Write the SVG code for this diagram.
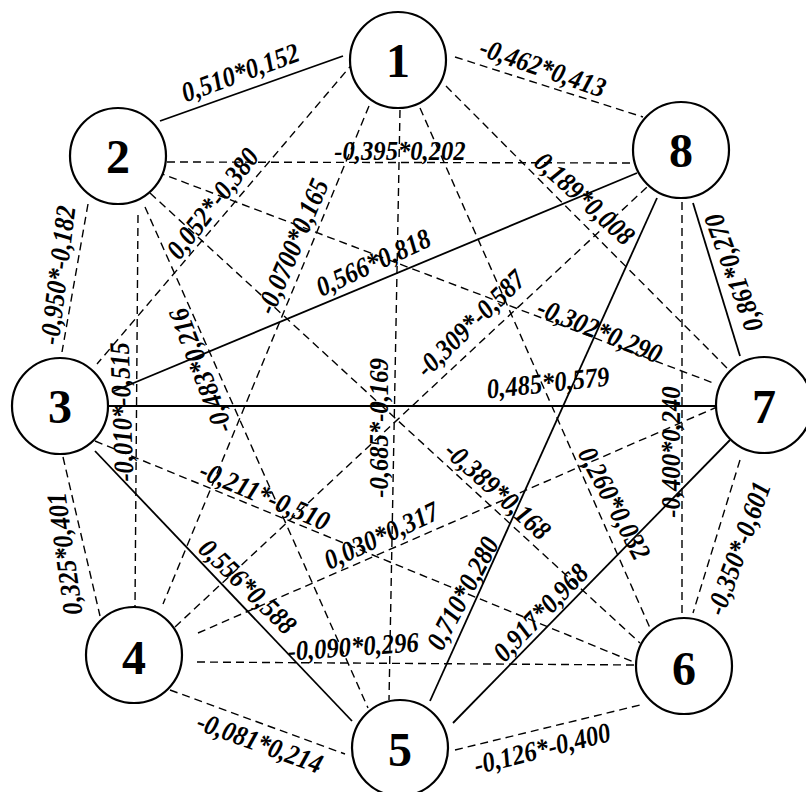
<svg xmlns="http://www.w3.org/2000/svg" width="806" height="792" viewBox="0 0 806 792">
<style>
.solid{stroke:#000;stroke-width:1.8;fill:none}
.dash{stroke:#000;stroke-width:1.4;fill:none;stroke-dasharray:8 5}
.node circle{fill:#fff;stroke:#000;stroke-width:2.2}
.node text{font-family:"Liberation Serif","Times New Roman",serif;font-weight:bold;font-size:48px;text-anchor:middle;fill:#000}
.lbl{font-family:"Liberation Serif","Times New Roman",serif;font-style:italic;font-weight:bold;font-size:28px;text-anchor:middle;fill:#000}
</style>
<rect width="806" height="792" fill="#fff"/>
<g id="connectors">
<line id="e1-2" class="solid" x1="160" y1="121" x2="343" y2="56"/>
<line id="e3-8" class="solid" x1="112" y1="392" x2="637" y2="173"/>
<line id="e3-7" class="solid" x1="109" y1="406" x2="716" y2="406"/>
<line id="e3-5" class="solid" x1="95" y1="451" x2="352" y2="721"/>
<line id="e8-7" class="solid" x1="693" y1="203" x2="740" y2="356"/>
<line id="e5-8" class="solid" x1="430" y1="701" x2="657" y2="198"/>
<line id="e5-7" class="solid" x1="453" y1="723" x2="730" y2="440"/>
<line id="e1-8" class="dash" x1="455" y1="57" x2="643" y2="117"/>
<line id="e2-8" class="dash" x1="167" y1="162" x2="636" y2="163"/>
<line id="e1-7" class="dash" x1="446" y1="86" x2="730" y2="371"/>
<line id="e1-3" class="dash" x1="354" y1="62" x2="97" y2="364"/>
<line id="e1-4" class="dash" x1="369" y1="106" x2="163" y2="604"/>
<line id="e1-5" class="dash" x1="400" y1="110" x2="389" y2="700"/>
<line id="e1-6" class="dash" x1="420" y1="108" x2="650" y2="628"/>
<line id="e2-7" class="dash" x1="157" y1="172" x2="716" y2="384"/>
<line id="e2-6" class="dash" x1="150" y1="193" x2="640" y2="643"/>
<line id="e2-5" class="dash" x1="145" y1="207" x2="368" y2="708"/>
<line id="e2-4" class="dash" x1="138" y1="215" x2="135" y2="607"/>
<line id="e2-3" class="dash" x1="88" y1="204" x2="62" y2="352"/>
<line id="e3-4" class="dash" x1="63" y1="457" x2="100" y2="616"/>
<line id="e3-6" class="dash" x1="95" y1="441" x2="636" y2="663"/>
<line id="e4-8" class="dash" x1="175" y1="627" x2="647" y2="187"/>
<line id="e4-7" class="dash" x1="198" y1="633" x2="717" y2="407"/>
<line id="e4-6" class="dash" x1="197" y1="662" x2="635" y2="665"/>
<line id="e4-5" class="dash" x1="170" y1="690" x2="345" y2="754"/>
<line id="e8-6" class="dash" x1="682" y1="202" x2="682" y2="617"/>
<line id="e7-6" class="dash" x1="740" y1="460" x2="693" y2="613"/>
<line id="e5-6" class="dash" x1="455" y1="750" x2="640" y2="705"/>
</g>
<g id="edge-labels">
<text class="lbl" y="10" transform="translate(240,72) rotate(-20) scale(0.88,1)">0,510*0,152</text>
<text class="lbl" y="10" transform="translate(543,67) rotate(19) scale(0.88,1)">-0,462*0,413</text>
<text class="lbl" y="10" transform="translate(400,150) scale(0.88,1)">-0,395*0,202</text>
<text class="lbl" y="10" transform="translate(585,198) rotate(42) scale(0.88,1)">0,189*0,008</text>
<text class="lbl" y="10" transform="translate(733,273) rotate(-110) scale(0.88,1)">0,861*0,270</text>
<text class="lbl" y="10" transform="translate(57,275) rotate(-83) scale(0.88,1)">-0,950*-0,182</text>
<text class="lbl" y="10" transform="translate(212,203) rotate(-52) scale(0.88,1)">0,052*-0,380</text>
<text class="lbl" y="10" transform="translate(292,246) rotate(-67) scale(0.88,1)">-0,0700*0,165</text>
<text class="lbl" y="10" transform="translate(373,262) rotate(-25) scale(0.88,1)">0,566*0,818</text>
<text class="lbl" y="10" transform="translate(600,330) rotate(22) scale(0.88,1)">-0,302*0,290</text>
<text class="lbl" y="10" transform="translate(470,323) rotate(-44) scale(0.88,1)">-0,309*-0,587</text>
<text class="lbl" y="10" transform="translate(548,382) rotate(-6) scale(0.88,1)">0,485*0,579</text>
<text class="lbl" y="10" transform="translate(121,412) rotate(-92) scale(0.88,1)">-0,010*-0,515</text>
<text class="lbl" y="10" transform="translate(200,371) rotate(-111) scale(0.88,1)">-0,483*0,216</text>
<text class="lbl" y="10" transform="translate(378,428) rotate(-90) scale(0.88,1)">-0,685*-0,169</text>
<text class="lbl" y="10" transform="translate(265,495) rotate(23) scale(0.88,1)">-0,211*-0,510</text>
<text class="lbl" y="10" transform="translate(498,490) rotate(42) scale(0.88,1)">-0,389*0,168</text>
<text class="lbl" y="10" transform="translate(615,503) rotate(62) scale(0.88,1)">0,260*0,032</text>
<text class="lbl" y="10" transform="translate(670,452) rotate(-90) scale(0.88,1)">-0,400*0,240</text>
<text class="lbl" y="10" transform="translate(381,535) rotate(-25) scale(0.88,1)">0,030*0,317</text>
<text class="lbl" y="10" transform="translate(738,548) rotate(-70) scale(0.88,1)">-0,350*-0,601</text>
<text class="lbl" y="10" transform="translate(64,554) rotate(-98) scale(0.88,1)">0,325*0,401</text>
<text class="lbl" y="10" transform="translate(248,586) rotate(44) scale(0.88,1)">0,556*0,588</text>
<text class="lbl" y="10" transform="translate(353,646) rotate(-4) scale(0.88,1)">-0,090*0,296</text>
<text class="lbl" y="10" transform="translate(462,593) rotate(-62) scale(0.88,1)">0,710*0,280</text>
<text class="lbl" y="10" transform="translate(540,612) rotate(-46) scale(0.88,1)">0,917*0,968</text>
<text class="lbl" y="10" transform="translate(260,742) rotate(20) scale(0.88,1)">-0,081*0,214</text>
<text class="lbl" y="10" transform="translate(542,748) rotate(-14) scale(0.88,1)">-0,126*-0,400</text>
</g>
<g id="node1" class="node"><circle cx="398" cy="60" r="48"/><text x="398" y="77">1</text></g>
<g id="node2" class="node"><circle cx="118" cy="156" r="48"/><text x="118" y="173">2</text></g>
<g id="node8" class="node"><circle cx="681" cy="150" r="48"/><text x="681" y="167">8</text></g>
<g id="node3" class="node"><circle cx="60" cy="406" r="48"/><text x="60" y="423">3</text></g>
<g id="node7" class="node"><circle cx="764" cy="405" r="48"/><text x="764" y="423">7</text></g>
<g id="node4" class="node"><circle cx="134" cy="655" r="48"/><text x="134" y="674">4</text></g>
<g id="node6" class="node"><circle cx="684" cy="666" r="48"/><text x="684" y="685">6</text></g>
<g id="node5" class="node"><circle cx="400" cy="748" r="48"/><text x="400" y="766">5</text></g>
</svg>
